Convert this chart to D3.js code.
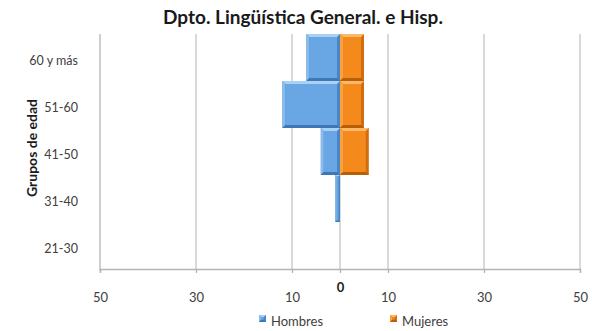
<!DOCTYPE html>
<html>
<head>
<meta charset="utf-8">
<script src="https://cdn.jsdelivr.net/npm/d3@7"></script>
<style>
  html, body { margin: 0; padding: 0; background: #fff; }
  svg { display: block; font-family: Lato, "Open Sans", sans-serif; }
</style>
</head>
<body>
<svg id="chart" width="592" height="331"></svg>
<script>
// Age groups, top to bottom
const categories = ["60 y más", "51-60", "41-50", "31-40", "21-30"];
// Number of people per age group
const hombres = [7, 12, 4, 1, 0];
const mujeres = [5, 5, 6, 0, 0];
// Axis ticks (men on the left as negatives)
const tickValues = [-50, -30, -10, 0, 10, 30, 50];
const seriesNames = ["Hombres", "Mujeres"];

const svg = d3.select("#chart");
const margin = { left: 100, right: 12, top: 34, bottom: 62 };
const W = 592, H = 331;

const x = d3.scaleLinear().domain([-50, 50]).range([margin.left, W - margin.right]);
const y = d3.scaleBand().domain(categories).range([margin.top, H - margin.bottom]).paddingInner(0).paddingOuter(0);

const palette = {
  Hombres: { face: "#69a7e4", light: "#a9d1f6", mid: "#88bcec", dark: "#4a86c4", edge: "#3f77b3" },
  Mujeres: { face: "#f58a1c", light: "#fdb96a", mid: "#f9a142", dark: "#d06d0e", edge: "#b85e08" }
};

// Title
svg.append("text")
  .attr("x", 303).attr("y", 24)
  .attr("text-anchor", "middle")
  .attr("font-size", 19).attr("font-weight", "bold").attr("fill", "#1a1a1a")
  .text("Dpto. Lingüística General. e Hisp.");

// Vertical gridlines
svg.append("g")
  .selectAll("line")
  .data(tickValues.filter(v => v !== -50))
  .join("line")
  .attr("x1", d => x(d)).attr("x2", d => x(d))
  .attr("y1", margin.top).attr("y2", H - margin.bottom)
  .attr("stroke", "#c4c4c4").attr("stroke-width", 1.3);

// Y axis line
svg.append("line")
  .attr("x1", x(-50)).attr("x2", x(-50))
  .attr("y1", margin.top).attr("y2", H - margin.bottom + 2)
  .attr("stroke", "#b4b4b4").attr("stroke-width", 1.3);

// X axis
const xAxis = d3.axisBottom(x).tickValues(tickValues).tickSize(4).tickFormat(d => Math.abs(d));
const gx = svg.append("g")
  .attr("transform", `translate(0,${H - margin.bottom})`)
  .call(xAxis);
gx.select(".domain").attr("stroke", "#b4b4b4").attr("stroke-width", 1.3);
gx.selectAll(".tick line").attr("stroke", "#b4b4b4").attr("stroke-width", 1.3);
gx.selectAll(".tick text")
  .attr("font-family", "Lato, 'Open Sans', sans-serif")
  .attr("font-size", 13).attr("fill", "#404040")
  .attr("y", 33)
  .attr("dy", 0);
gx.selectAll(".tick text").filter(d => d === 0)
  .attr("y", 23).attr("font-weight", "bold").attr("fill", "#1a1a1a");

// Y category labels
svg.append("g")
  .selectAll("text")
  .data(categories)
  .join("text")
  .attr("x", 78)
  .attr("y", d => y(d) + y.bandwidth() / 2 + 7)
  .attr("text-anchor", "end")
  .attr("font-size", 12.5).attr("fill", "#404040")
  .text(d => d);

// Y axis title
svg.append("text")
  .attr("transform", `translate(37,148) rotate(-90)`)
  .attr("text-anchor", "middle")
  .attr("font-size", 14).attr("font-weight", "bold").attr("fill", "#1a1a1a")
  .text("Grupos de edad");

// Bevelled bar drawing
function bevelBar(g, x0, y0, w, h, c) {
  if (w <= 0 || h <= 0) return;
  const b = Math.min(3, w / 3, h / 3);
  const x1 = x0 + w, y1 = y0 + h;
  g.append("rect").attr("x", x0).attr("y", y0).attr("width", w).attr("height", h).attr("fill", c.dark);
  g.append("polygon")
    .attr("points", [[x0, y0], [x1, y0], [x1 - b, y0 + b], [x0 + b, y0 + b]].join(" "))
    .attr("fill", c.light);
  g.append("polygon")
    .attr("points", [[x0, y0], [x0 + b, y0 + b], [x0 + b, y1 - b], [x0, y1]].join(" "))
    .attr("fill", c.mid);
  g.append("polygon")
    .attr("points", [[x0, y1], [x0 + b, y1 - b], [x1 - b, y1 - b], [x1, y1]].join(" "))
    .attr("fill", c.edge);
  g.append("rect")
    .attr("x", x0 + b).attr("y", y0 + b)
    .attr("width", Math.max(0, w - 2 * b)).attr("height", Math.max(0, h - 2 * b))
    .attr("fill", c.face);
}

const bars = svg.append("g");
categories.forEach((cat, i) => {
  const yTop = y(cat), bh = y.bandwidth();
  const hv = hombres[i], mv = mujeres[i];
  if (hv > 0) bevelBar(bars, x(-hv), yTop, x(0) - x(-hv), bh, palette.Hombres);
  if (mv > 0) bevelBar(bars, x(0), yTop, x(mv) - x(0), bh, palette.Mujeres);
});

// Legend
const legend = svg.append("g");
const legendPos = [259, 390];
seriesNames.forEach((name, i) => {
  const lx = legendPos[i];
  const c = palette[name];
  bevelBar(legend, lx, 315, 7, 7, c);
  legend.append("text")
    .attr("x", lx + 12).attr("y", 326)
    .attr("font-size", 13).attr("fill", "#404040")
    .text(name);
});
</script>
</body>
</html>
